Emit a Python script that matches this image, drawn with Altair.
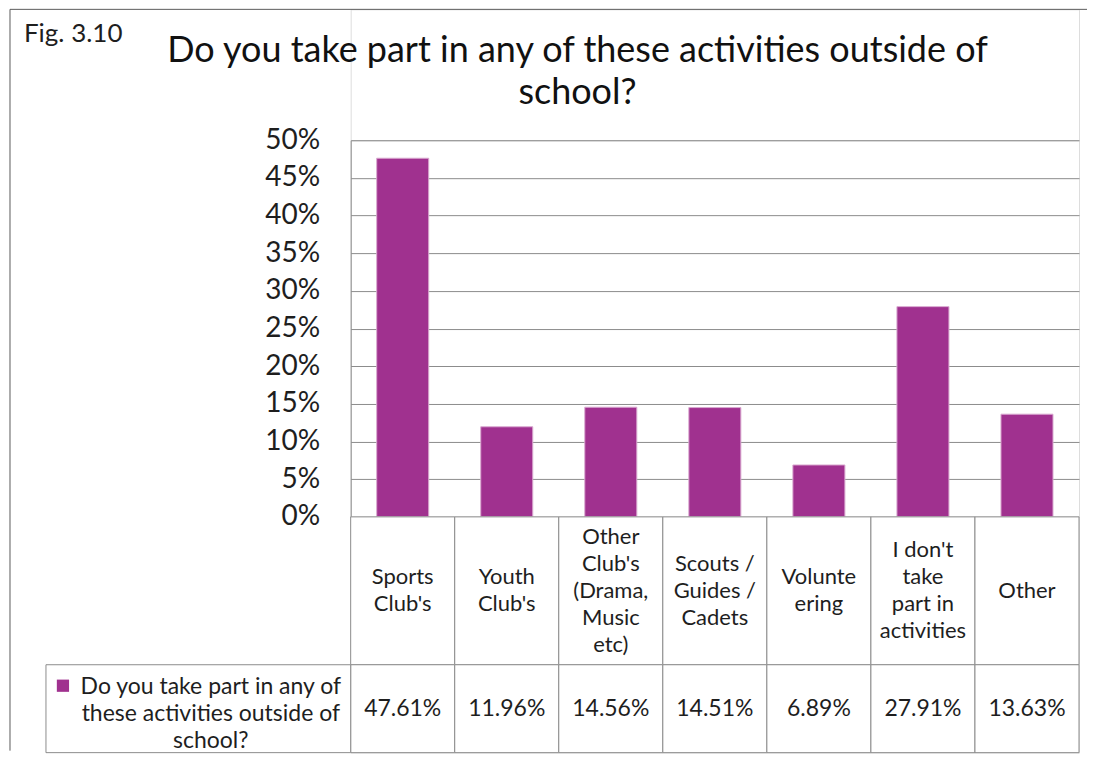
import altair as alt
import pandas as pd

# ---------------- data ----------------
categories = [
    "Sports Club's",
    "Youth Club's",
    "Other Club's (Drama, Music etc)",
    "Scouts / Guides / Cadets",
    "Volunteering",
    "I don't take part in activities",
    "Other",
]
header_labels = [
    "Sports\nClub's",
    "Youth\nClub's",
    "Other\nClub's\n(Drama,\nMusic\netc)",
    "Scouts /\nGuides /\nCadets",
    "Volunte\nering",
    "I don't\ntake\npart in\nactivities",
    "Other",
]
values = [0.4761, 0.1196, 0.1456, 0.1451, 0.0689, 0.2791, 0.1363]
value_labels = ["47.61%", "11.96%", "14.56%", "14.51%", "6.89%", "27.91%", "13.63%"]
y_ticks = [0, 0.05, 0.10, 0.15, 0.20, 0.25, 0.30, 0.35, 0.40, 0.45, 0.50]
series_name = "Do you take part in any of these activities outside of school?"
legend_label = "Do you take part in any of\nthese activities outside of\nschool?"
title_text = "Do you take part in any of these activities outside of\nschool?"
fig_label = "Fig. 3.10"

# ---------------- style ----------------
FONT = "Lato"
BAR = "#A0318F"
LINE = "#8C8C8C"
BORDER = "#5A5A5A"
TXT = "#1E1E1E"
PLOT_W = 729
TITLE_H = 131
BAR_H = 377
HEAD_H = 148
VAL_H = 88
HEAD_LH = 27

df = pd.DataFrame({
    "cat": categories,
    "header": header_labels,
    "nlines": [h.count("\n") + 1 for h in header_labels],
    "value": values,
    "label": value_labels,
})
legend_df = pd.DataFrame({"series": [series_name], "legend": [legend_label]})
title_df = pd.DataFrame({"fig": [fig_label], "title": [title_text]})

# ---------------- title row ----------------
fig_txt = alt.Chart(title_df).mark_text(
    align="left", baseline="alphabetic", fontSize=26, font=FONT, color=TXT
).encode(x=alt.value(-327), y=alt.value(33), text="fig:N")

title_txt = alt.Chart(title_df).mark_text(
    align="center", baseline="alphabetic", fontSize=36, font=FONT, color="#111111",
    lineBreak="\n", lineHeight=42
).encode(x=alt.value(227), y=alt.value(53), text="title:N")

top_border = alt.Chart(title_df).mark_rule(color=BORDER, strokeWidth=1).encode(
    x=alt.value(-341), x2=alt.value(737), y=alt.value(0)
)
left_border = alt.Chart(title_df).mark_rule(color=BORDER, strokeWidth=1).encode(
    x=alt.value(-341), y=alt.value(0), y2=alt.value(TITLE_H + BAR_H + HEAD_H + VAL_H - 2)
)

title_chart = alt.layer(top_border, left_border, fig_txt, title_txt).properties(
    width=PLOT_W, height=TITLE_H
)

# ---------------- bar chart ----------------
bars = alt.Chart(df).mark_bar(color=BAR, stroke="#D9A9D0", strokeWidth=1).encode(
    x=alt.X("cat:N",
            scale=alt.Scale(domain=categories, paddingInner=0.5, paddingOuter=0.25),
            axis=None),
    y=alt.Y("value:Q",
            scale=alt.Scale(domain=[0, 0.5], nice=False, zero=True),
            axis=alt.Axis(values=y_ticks, format=".0%", grid=True, gridColor=LINE,
                          domainColor=LINE, ticks=False, labelPadding=31,
                          labelFontSize=28, labelFont=FONT, labelColor=TXT,
                          title=None)),
).properties(width=PLOT_W, height=BAR_H)

# ---------------- table: header row ----------------
tab_x = alt.X("cat:N", scale=alt.Scale(domain=categories, paddingInner=0, paddingOuter=0),
              axis=None)

head_cells = alt.Chart(df).mark_rect(fill="white", stroke=LINE, strokeWidth=1).encode(x=tab_x)
head_text = alt.Chart(df).mark_text(
    lineBreak="\n", fontSize=22, lineHeight=HEAD_LH, font=FONT, color=TXT,
    align="center", baseline="middle",
    dy=alt.expr(f"-{HEAD_LH / 2}*(datum.nlines-1)")
).encode(x=tab_x, text="header:N")
header_chart = alt.layer(head_cells, head_text).properties(width=PLOT_W, height=HEAD_H)

# ---------------- table: value row + legend ----------------
val_cells = alt.Chart(df).mark_rect(fill="white", stroke=LINE, strokeWidth=1).encode(x=tab_x)
val_text = alt.Chart(df).mark_text(
    fontSize=23, font=FONT, color=TXT, align="center", baseline="middle"
).encode(x=tab_x, text="label:N")

leg_box = alt.Chart(legend_df).mark_rect(fill="white", stroke=LINE, strokeWidth=1).encode(
    x=alt.value(-305), x2=alt.value(0), y=alt.value(0), y2=alt.value(VAL_H)
)
leg_sq = alt.Chart(legend_df).mark_square(size=150, color=BAR, opacity=1, filled=True).encode(
    x=alt.value(-288), y=alt.value(21)
)
leg_txt = alt.Chart(legend_df).mark_text(
    lineBreak="\n", fontSize=23, lineHeight=27, font=FONT, color=TXT,
    align="center", baseline="alphabetic"
).encode(x=alt.value(-140), y=alt.value(29), text="legend:N")

values_chart = alt.layer(val_cells, val_text, leg_box, leg_sq, leg_txt).properties(
    width=PLOT_W, height=VAL_H
)

chart = alt.vconcat(
    title_chart, bars, header_chart, values_chart, spacing=0, bounds="flush"
).properties(
    padding={"left": 1, "top": 0, "right": 0, "bottom": 0}
).configure_view(strokeWidth=0).configure(background="white")

chart.save("out.html", embed_options={"renderer": "svg", "actions": False})
